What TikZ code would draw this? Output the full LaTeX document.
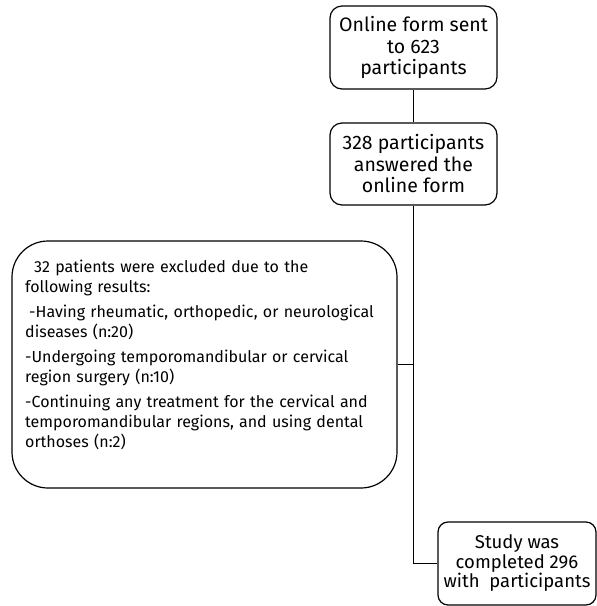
\documentclass[tikz,border=0pt]{standalone}
\usepackage{fontspec}
\setmainfont{Fira Sans}
\begin{document}
\begin{tikzpicture}[x=1pt,y=-1pt,
  box/.style={draw, line width=1.2pt, rounded corners=12pt, align=center, inner sep=0pt},
  conn/.style={line width=1.2pt}]
\useasboundingbox (0,0) rectangle (597,606);
\node[box, minimum width=167pt, minimum height=83pt, font=\fontsize{19.5}{21.5}\selectfont] (b1) at (413.5,47.5) {Online form sent\\to 623\\participants};
\node[box, minimum width=167pt, minimum height=82pt, font=\fontsize{19.5}{21.5}\selectfont] (b2) at (413.5,164) {328 participants\\answered the\\online form};
\node[box, rounded corners=36pt, minimum width=385pt, minimum height=247pt] (b3) at (204.5,364.5) {};
\node[anchor=north west, inner sep=0pt, align=left, text width=380pt, font=\fontsize{16}{20}\selectfont] (t3) at (25,260) {\hspace*{9pt}32 patients were excluded due to the\\following results:\\[5pt]
\hspace*{4pt}-Having rheumatic, orthopedic, or neurological\\diseases (n:20)\\[5pt]
-Undergoing temporomandibular or cervical\\region surgery (n:10)\\[5pt]
-Continuing any treatment for the cervical and\\temporomandibular regions, and using dental\\orthoses (n:2)};
\node[box, rounded corners=10pt, minimum width=158pt, minimum height=83pt, font=\fontsize{18.5}{19.5}\selectfont] (b4) at (517,563.5) {Study was\\completed 296\\with\ \ participants};
\coordinate (bend) at (b2.south |- b4.west);
\draw[conn] (b1.south) -- (b2.north);
\draw[conn] (b2.south) -- (bend) -- (b4.west);
\draw[conn] (b3.east) -- (b3.east -| b2.south);
\end{tikzpicture}
\end{document}
